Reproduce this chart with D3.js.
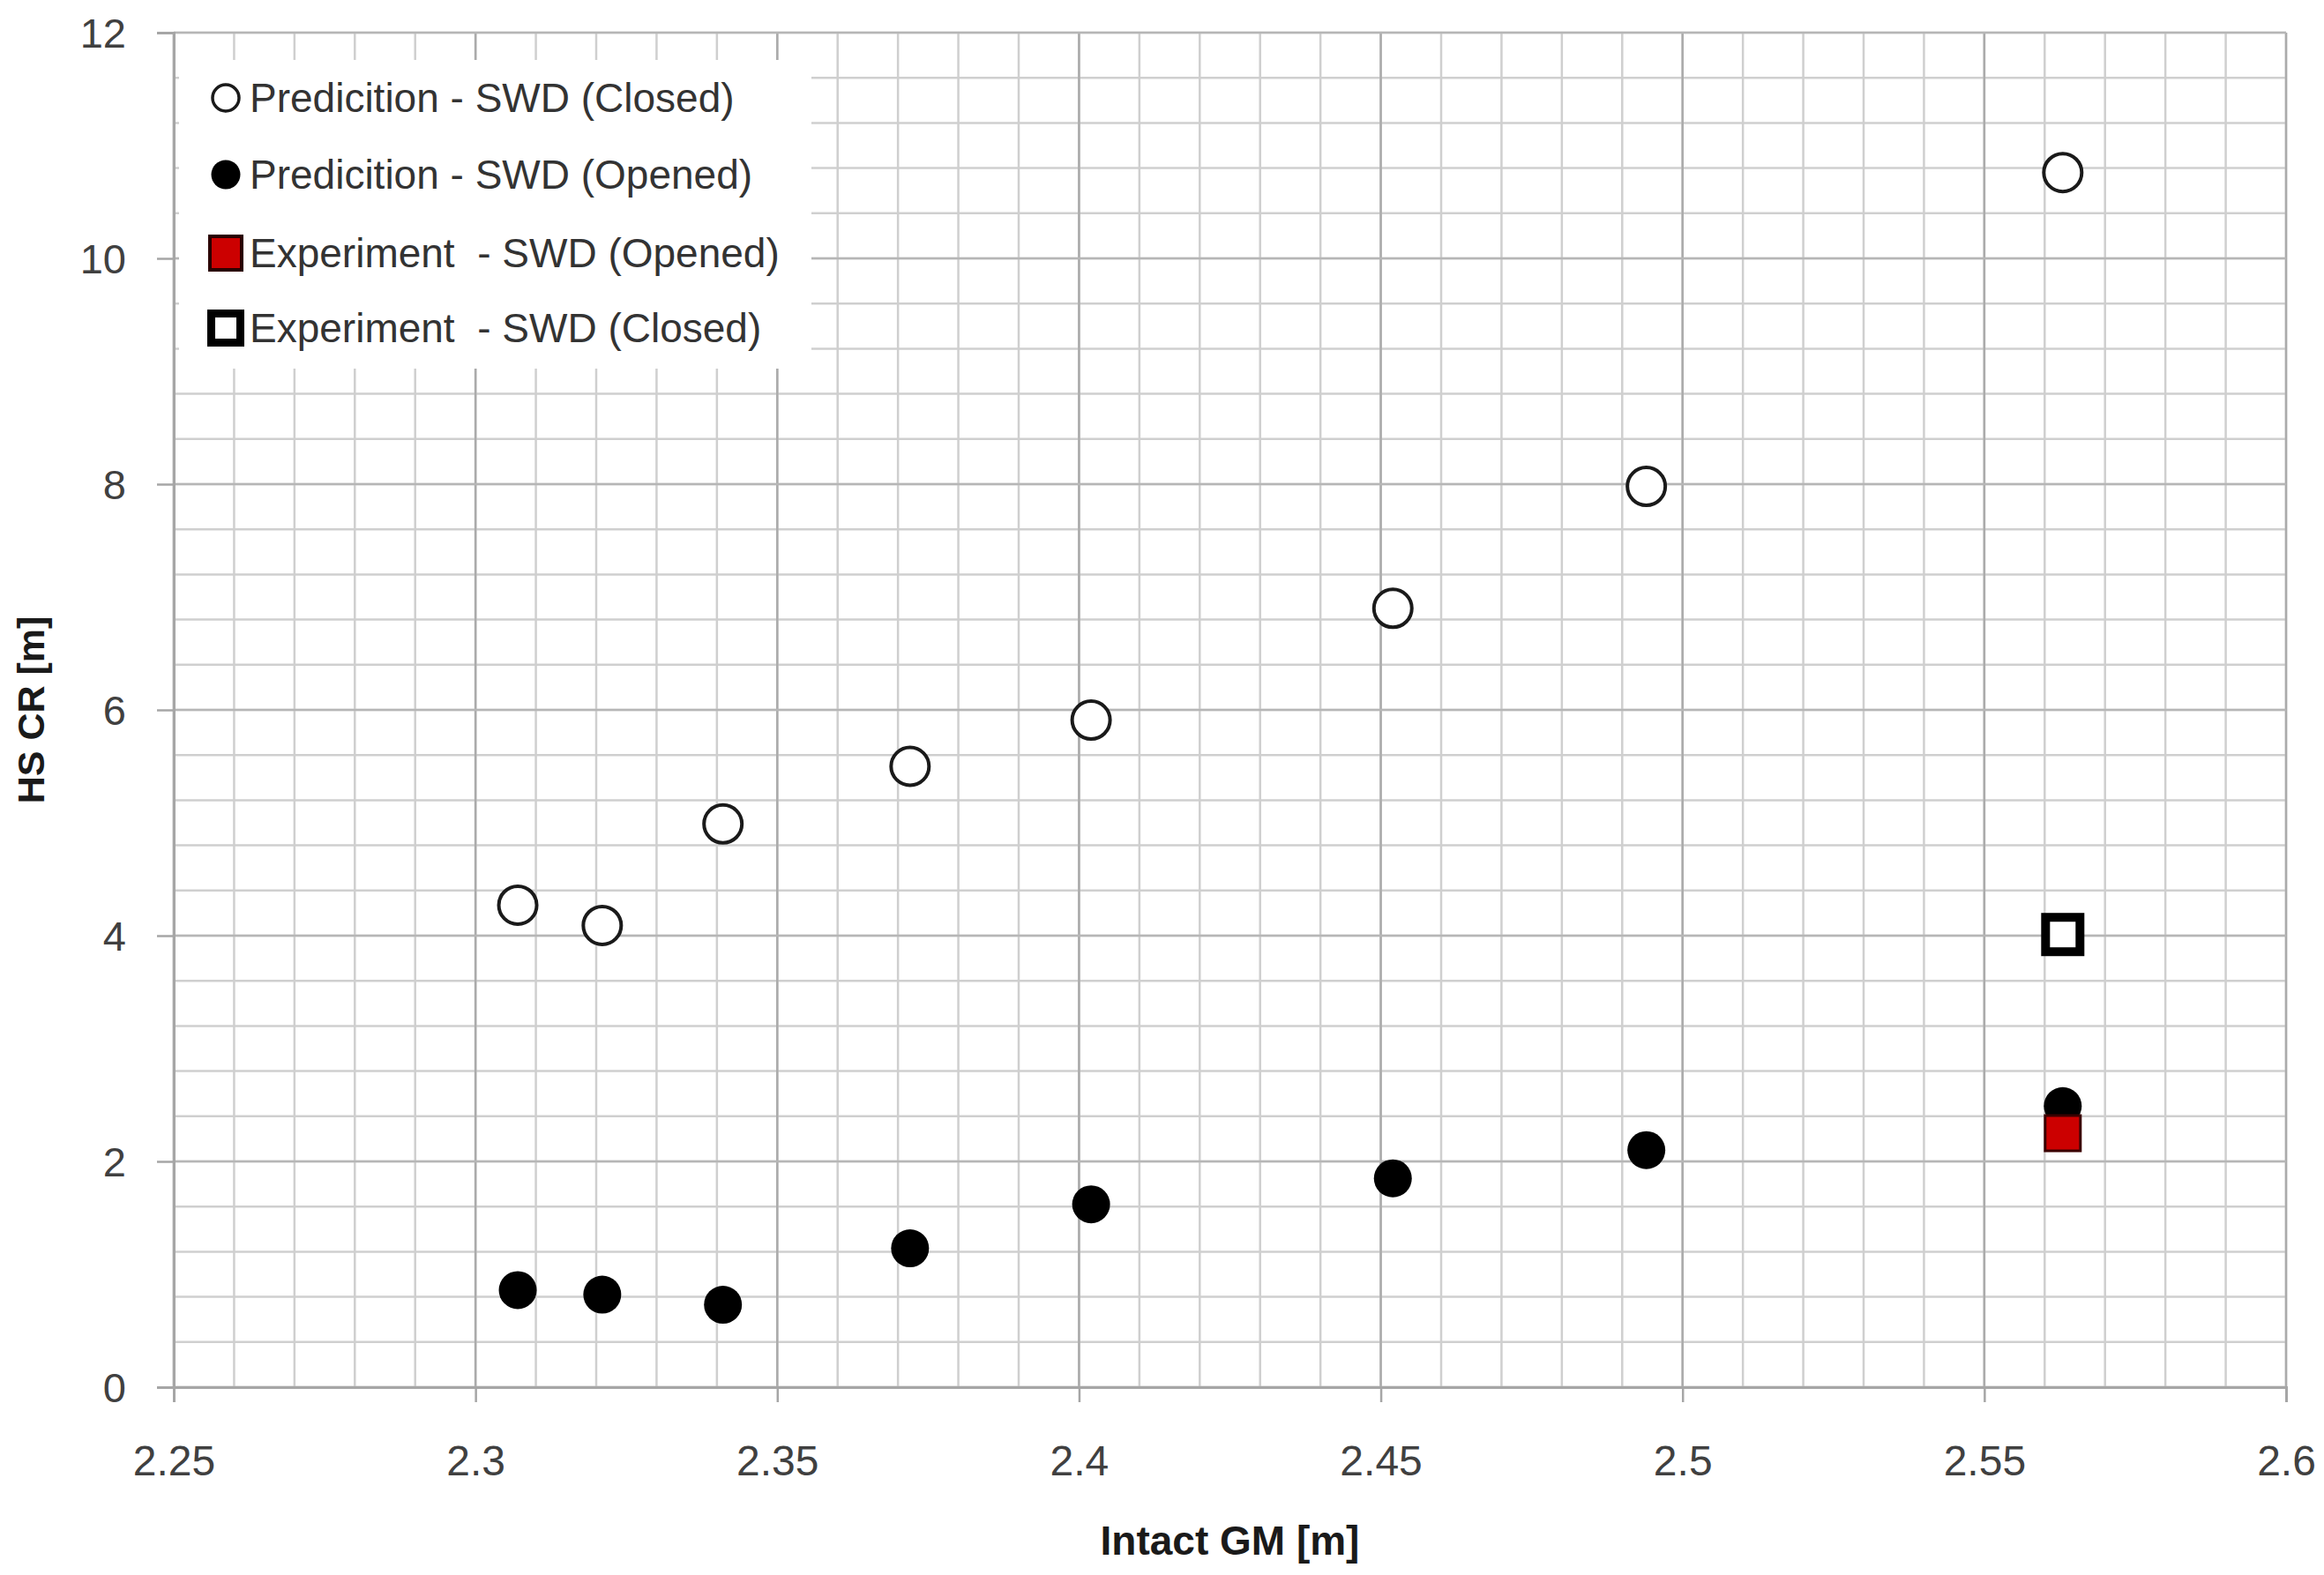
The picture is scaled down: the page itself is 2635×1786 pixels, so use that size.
<!DOCTYPE html>
<html>
<head>
<meta charset="utf-8">
<script src="https://cdn.jsdelivr.net/npm/d3@7"></script>
<style>
  html, body { margin: 0; padding: 0; background: #fff; }
  svg { display: block; font-family: "Liberation Sans", Arial, sans-serif; }
</style>
</head>
<body>
<svg id="chart" width="2635" height="1786"></svg>
<script>
// ---- Data ----
const gmValues = [2.307, 2.321, 2.341, 2.372, 2.402, 2.452, 2.494, 2.563];
const predClosed = [4.27, 4.09, 4.99, 5.50, 5.91, 6.90, 7.98, 10.76];
const predOpened = [0.86, 0.82, 0.73, 1.23, 1.62, 1.85, 2.10, 2.49];
const expGM = [2.563];
const expOpened = [2.25];
const expClosed = [4.01];

const seriesNames = [
  "Predicition - SWD (Closed)",
  "Predicition - SWD (Opened)",
  "Experiment  - SWD (Opened)",
  "Experiment  - SWD (Closed)"
];
const xTickValues = [2.25, 2.3, 2.35, 2.4, 2.45, 2.5, 2.55, 2.6];
const xTickLabels = ["2.25", "2.3", "2.35", "2.4", "2.45", "2.5", "2.55", "2.6"];
const yTickValues = [0, 2, 4, 6, 8, 10, 12];
const yTickLabels = ["0", "2", "4", "6", "8", "10", "12"];
const xTitle = "Intact GM [m]";
const yTitle = "HS CR [m]";

// ---- Layout ----
const L = 197, R = 2592, T = 37, B = 1573;
const svg = d3.select("#chart");

const x = d3.scaleLinear().domain([2.25, 2.6]).range([L, R]);
const y = d3.scaleLinear().domain([0, 12]).range([B, T]);

// minor gridlines
const xMinor = d3.range(0, 36).map(i => 2.25 + i * 0.01);
const yMinor = d3.range(0, 31).map(i => i * 0.4);

const grid = svg.append("g");
grid.selectAll("line.vx").data(xMinor).join("line")
  .attr("x1", d => x(d)).attr("x2", d => x(d))
  .attr("y1", T).attr("y2", B)
  .attr("stroke", "#cfcfcf").attr("stroke-width", 2.5);
grid.selectAll("line.hy").data(yMinor).join("line")
  .attr("x1", L).attr("x2", R)
  .attr("y1", d => y(d)).attr("y2", d => y(d))
  .attr("stroke", "#cfcfcf").attr("stroke-width", 2.5);
// major gridlines
grid.selectAll("line.vmaj").data(xTickValues).join("line")
  .attr("x1", d => x(d)).attr("x2", d => x(d))
  .attr("y1", T).attr("y2", B)
  .attr("stroke", "#ababab").attr("stroke-width", 2.5);
grid.selectAll("line.hmaj").data(yTickValues).join("line")
  .attr("x1", L).attr("x2", R)
  .attr("y1", d => y(d)).attr("y2", d => y(d))
  .attr("stroke", "#b6b6b6").attr("stroke-width", 2.5);

// legend background (covers the grid)
svg.append("rect").attr("x", 203).attr("y", 68).attr("width", 717).attr("height", 350)
  .attr("fill", "#fff");

// axes
const xAxis = d3.axisBottom(x).tickValues(xTickValues)
  .tickFormat((d, i) => xTickLabels[i]).tickSize(17).tickPadding(46);
const gx = svg.append("g").attr("transform", `translate(0,${B})`).call(xAxis);
gx.select(".domain").attr("stroke", "#a6a6a6").attr("stroke-width", 3);
gx.selectAll(".tick line").attr("stroke", "#a6a6a6").attr("stroke-width", 2.5);
gx.selectAll(".tick text").attr("font-size", 48).attr("fill", "#404040")
  .attr("font-family", "Liberation Sans, Arial, sans-serif")
  .attr("dy", "0").attr("y", 100);

const yAxis = d3.axisLeft(y).tickValues(yTickValues)
  .tickFormat((d, i) => yTickLabels[i]).tickSize(19).tickPadding(35);
const gy = svg.append("g").attr("transform", `translate(${L},0)`).call(yAxis);
gy.select(".domain").attr("stroke", "#a6a6a6").attr("stroke-width", 3);
gy.selectAll(".tick line").attr("stroke", "#a6a6a6").attr("stroke-width", 2.5);
gy.selectAll(".tick text").attr("font-size", 47).attr("fill", "#404040")
  .attr("font-family", "Liberation Sans, Arial, sans-serif")
  .attr("dy", "0.36em");

// axis titles
svg.append("text").attr("x", (L + R) / 2).attr("y", 1763)
  .attr("text-anchor", "middle").attr("font-size", 46).attr("font-weight", "bold")
  .attr("fill", "#1a1a1a").text(xTitle);
svg.append("text").attr("transform", "translate(50,805) rotate(-90)")
  .attr("text-anchor", "middle").attr("font-size", 43).attr("font-weight", "bold")
  .attr("fill", "#1a1a1a").text(yTitle);

// ---- Marks ----
const marks = svg.append("g");
// prediction closed: open circles
marks.selectAll("circle.pc").data(gmValues.map((g, i) => [g, predClosed[i]])).join("circle")
  .attr("cx", d => x(d[0])).attr("cy", d => y(d[1])).attr("r", 21.5)
  .attr("fill", "#fff").attr("stroke", "#1a1a1a").attr("stroke-width", 4);
// experiment closed: hollow square
marks.selectAll("rect.ec").data(expGM.map((g, i) => [g, expClosed[i]])).join("rect")
  .attr("x", d => x(d[0]) - 19.5).attr("y", d => y(d[1]) - 19.5)
  .attr("width", 39).attr("height", 39)
  .attr("fill", "#fff").attr("stroke", "#000").attr("stroke-width", 10);
// prediction opened: filled circles
marks.selectAll("circle.po").data(gmValues.map((g, i) => [g, predOpened[i]])).join("circle")
  .attr("cx", d => x(d[0])).attr("cy", d => y(d[1])).attr("r", 21.5)
  .attr("fill", "#000");
// experiment opened: red square
marks.selectAll("rect.eo").data(expGM.map((g, i) => [g, expOpened[i]])).join("rect")
  .attr("x", d => x(d[0]) - 20).attr("y", d => y(d[1]) - 20)
  .attr("width", 40).attr("height", 40)
  .attr("fill", "#cc0000").attr("stroke", "#3a0000").attr("stroke-width", 3);

// ---- Legend ----
const legendRows = [111, 198, 287, 372];
const lg = svg.append("g");
const mx = 256;
lg.append("circle").attr("cx", mx).attr("cy", legendRows[0]).attr("r", 15)
  .attr("fill", "#fff").attr("stroke", "#1a1a1a").attr("stroke-width", 3.5);
lg.append("circle").attr("cx", mx).attr("cy", legendRows[1]).attr("r", 16.5)
  .attr("fill", "#000");
lg.append("rect").attr("x", mx - 18).attr("y", legendRows[2] - 19).attr("width", 36).attr("height", 38)
  .attr("fill", "#cc0000").attr("stroke", "#2a0000").attr("stroke-width", 4);
lg.append("rect").attr("x", mx - 16.5).attr("y", legendRows[3] - 16.5).attr("width", 33).attr("height", 33)
  .attr("fill", "#fff").attr("stroke", "#000").attr("stroke-width", 9);
lg.selectAll("text").data(seriesNames).join("text")
  .attr("x", 283).attr("y", (d, i) => legendRows[i] + 16)
  .attr("font-size", 46).attr("fill", "#333")
  .attr("xml:space", "preserve").style("white-space", "pre")
  .text(d => d);
</script>
</body>
</html>
